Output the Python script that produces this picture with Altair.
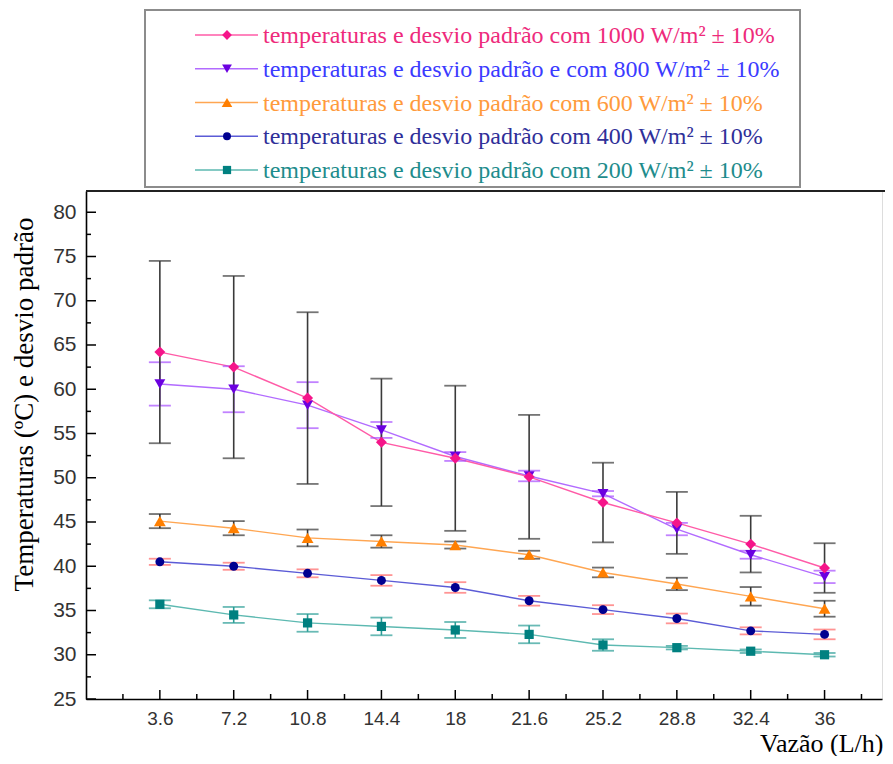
import altair as alt
import pandas as pd

# ---------------- data ----------------
vazao = [3.6, 7.2, 10.8, 14.4, 18, 21.6, 25.2, 28.8, 32.4, 36]
series = ["1000", "800", "600", "400", "200"]
temp = {
    "1000": [64.2, 62.5, 59.0, 54.0, 52.2, 50.1, 47.2, 44.9, 42.5, 39.8],
    "800":  [60.6, 60.0, 58.2, 55.4, 52.4, 50.2, 48.2, 44.2, 41.3, 38.8],
    "600":  [45.1, 44.3, 43.2, 42.8, 42.4, 41.3, 39.3, 38.0, 36.6, 35.2],
    "400":  [40.5, 40.0, 39.2, 38.4, 37.6, 36.1, 35.1, 34.1, 32.7, 32.3],
    "200":  [35.7, 34.5, 33.6, 33.2, 32.8, 32.3, 31.1, 30.8, 30.4, 30.0],
}
desvio = {
    "1000": [10.3, 10.3, 9.7, 7.2, 8.2, 7.0, 4.5, 3.5, 3.2, 2.8],
    "800":  [2.45, 2.6, 2.6, 0.9, 0.5, 0.6, 0.3, 0.7, 0.45, 0.7],
    "600":  [0.8, 0.8, 0.95, 0.7, 0.4, 0.45, 0.55, 0.7, 1.05, 0.9],
    "400":  [0.35, 0.4, 0.45, 0.6, 0.6, 0.55, 0.5, 0.55, 0.4, 0.55],
    "200":  [0.45, 0.9, 1.0, 1.0, 0.9, 1.0, 0.65, 0.2, 0.2, 0.2],
}
legend_labels = [
    "temperaturas e desvio padrão com 1000 W/m² ± 10%",
    "temperaturas e desvio padrão e com 800 W/m² ± 10%",
    "temperaturas e desvio padrão com 600 W/m² ± 10%",
    "temperaturas e desvio padrão com 400 W/m² ± 10%",
    "temperaturas e desvio padrão com 200 W/m² ± 10%",
]
x_major = [3.6, 7.2, 10.8, 14.4, 18, 21.6, 25.2, 28.8, 32.4, 36]
x_minor = [1.8, 5.4, 9.0, 12.6, 16.2, 19.8, 23.4, 27.0, 30.6, 34.2, 37.8]
y_major = [25, 30, 35, 40, 45, 50, 55, 60, 65, 70, 75, 80]
y_minor = [27.5, 32.5, 37.5, 42.5, 47.5, 52.5, 57.5, 62.5, 67.5, 72.5, 77.5]

# ---------------- styles ----------------
style = {
    "1000": dict(line="#FF5BA7", mark="#F5158A", err="#3A3A3A", text="#EE2A7B", shape="diamond", size=120),
    "800":  dict(line="#B26BFF", mark="#6B00E0", err="#A64DFF", text="#3B3BFF", shape="triangle-down", size=120),
    "600":  dict(line="#FFA652", mark="#FF7F00", err="#333333", text="#FF9A3C", shape="triangle-up", size=140),
    "400":  dict(line="#5B5BD6", mark="#000090", err="#FF6666", text="#2F2F99", shape="circle", size=80),
    "200":  dict(line="#5DB9B1", mark="#008080", err="#2A9D96", text="#1E8C8C", shape="square", size=85),
}

W, H = 796, 508
SERIF = "Liberation Serif"
SANS = "Liberation Sans"

xscale = alt.Scale(domain=[0, 38.8], nice=False, zero=False)
yscale = alt.Scale(domain=[25, 82.4], nice=False, zero=False)

x_axis = alt.Axis(
    values=x_major, format=".3~g", ticks=False, grid=False,
    domainColor="#000", domainWidth=1.6,
    labelFont=SANS, labelFontSize=19, labelColor="#333", labelPadding=10,
    title="Vazão (L/h)", titleFont=SERIF, titleFontSize=26, titleFontWeight="normal",
    titleColor="#000", titleAnchor="end", titleAlign="right", titleX=797, titleY=52,
    titleBaseline="alphabetic",
)
y_axis = alt.Axis(
    values=y_major, format="d", ticks=False, grid=False,
    domainColor="#000", domainWidth=1.6,
    labelFont=SANS, labelFontSize=21, labelColor="#333", labelPadding=10,
    title="Temperaturas (ºC) e desvio padrão", titleFont=SERIF, titleFontSize=27,
    titleFontWeight="normal", titleColor="#000", titleX=-54, titleY=213,
    titleBaseline="alphabetic", titleAngle=270,
)

X = lambda f: alt.X(f, type="quantitative", scale=xscale, axis=x_axis)
Y = lambda f: alt.Y(f, type="quantitative", scale=yscale, axis=y_axis)

rows = []
for s in series:
    for xv, m, d in zip(vazao, temp[s], desvio[s]):
        rows.append({"serie": s, "vazao": xv, "temp": m, "sd": d})
df = pd.DataFrame(rows)

layers = []

# inward axis ticks
ymaj = pd.DataFrame({"v": y_major})
ymin = pd.DataFrame({"v": y_minor})
xmaj = pd.DataFrame({"v": x_major})
xmin = pd.DataFrame({"v": x_minor})
layers.append(alt.Chart(ymaj).mark_rule(color="#000", strokeWidth=1.5).encode(
    y=Y("v"), x=alt.value(0), x2=alt.value(10)))
layers.append(alt.Chart(ymin).mark_rule(color="#000", strokeWidth=1.5).encode(
    y=Y("v"), x=alt.value(0), x2=alt.value(5)))
layers.append(alt.Chart(xmaj).mark_rule(color="#000", strokeWidth=1.5).encode(
    x=X("v"), y=alt.value(H), y2=alt.value(H - 9)))
layers.append(alt.Chart(xmin).mark_rule(color="#000", strokeWidth=1.5).encode(
    x=X("v"), y=alt.value(H), y2=alt.value(H - 5)))
# top frame line
layers.append(alt.Chart(ymaj).mark_rule(color="#222", strokeWidth=1.3).encode(
    x=alt.value(0), x2=alt.value(W + 20), y=alt.value(0)))

draw_order = ["200", "400", "600", "800", "1000"]
for s in draw_order:
    st = style[s]
    base = alt.Chart(df).transform_filter(alt.datum.serie == s)
    layers.append(base.mark_line(color=st["line"], strokeWidth=1.4).encode(x=X("vazao"), y=Y("temp")))
for s in draw_order:
    st = style[s]
    base = alt.Chart(df).transform_filter(alt.datum.serie == s).transform_calculate(
        lo="datum.temp - datum.sd", hi="datum.temp + datum.sd")
    layers.append(base.mark_rule(color=st["err"], strokeWidth=1.6).encode(
        x=X("vazao"), y=Y("lo"), y2="hi"))
    layers.append(base.mark_tick(color=st["err"], orient="horizontal", size=22, thickness=1.8).encode(
        x=X("vazao"), y=Y("lo")))
    layers.append(base.mark_tick(color=st["err"], orient="horizontal", size=22, thickness=1.8).encode(
        x=X("vazao"), y=Y("hi")))
for s in draw_order:
    st = style[s]
    base = alt.Chart(df).transform_filter(alt.datum.serie == s)
    layers.append(base.mark_point(shape=st["shape"], filled=True, opacity=1, size=st["size"],
                                  color=st["mark"]).encode(x=X("vazao"), y=Y("temp")))

# legend box (positions relative to plot area origin)
LX0, LX1, LY0, LY1 = 59, 714, -181, -4
layers.append(alt.Chart(ymaj).mark_rect(fill="white", stroke="#8C8C8C", strokeWidth=2).encode(
    x=alt.value(LX0), x2=alt.value(LX1), y=alt.value(LY0), y2=alt.value(LY1)))
for i, (s, lab) in enumerate(zip(series, legend_labels)):
    st = style[s]
    yy = -156 + 33.75 * i
    ldf = pd.DataFrame({"label": [lab]})
    layers.append(alt.Chart(ldf).mark_rule(color=st["line"], strokeWidth=1.4).encode(
        x=alt.value(109), x2=alt.value(172), y=alt.value(yy)))
    layers.append(alt.Chart(ldf).mark_point(shape=st["shape"], filled=True, opacity=1,
                                            size=st["size"] * 0.8, color=st["mark"]).encode(
        x=alt.value(141), y=alt.value(yy)))
    layers.append(alt.Chart(ldf).mark_text(align="left", baseline="middle", font=SERIF,
                                           fontSize=24, color=st["text"]).encode(
        x=alt.value(177), y=alt.value(yy + 1), text="label:N"))

chart = alt.layer(*layers).properties(
    width=W, height=H,
    autosize=alt.AutoSizeParams(type="none"),
    padding={"left": 78, "top": 183, "right": 3, "bottom": 57},
).configure_view(stroke=None).configure(background="white")

chart.save("out.html", embed_options={"renderer": "svg", "actions": False})
